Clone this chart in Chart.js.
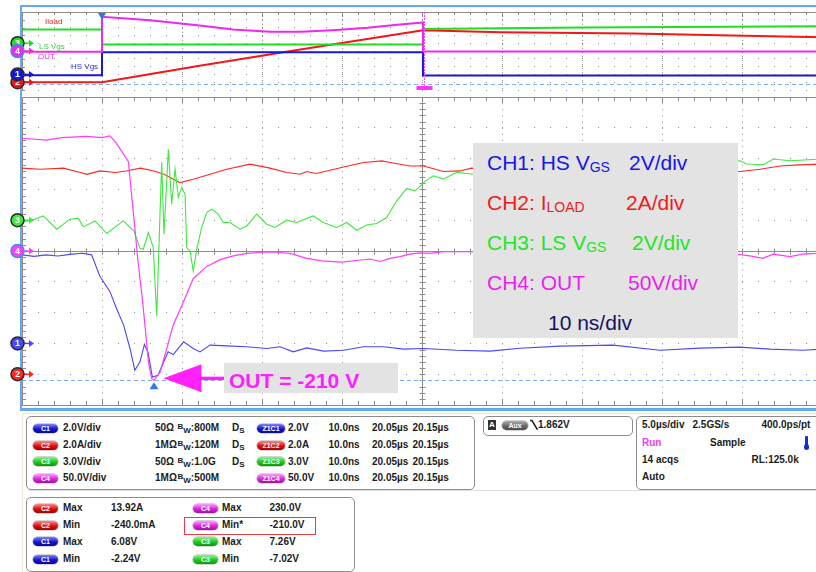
<!DOCTYPE html>
<html>
<head>
<meta charset="utf-8">
<script src="https://cdn.jsdelivr.net/npm/chart.js@4.4.1/dist/chart.umd.min.js"></script>
<style>
  html, body { margin: 0; padding: 0; width: 816px; height: 572px; overflow: hidden; background: #fff;
    font-family: "Liberation Sans", Arial, sans-serif; }
  canvas { position: absolute; left: 0; top: 0; }
  .abs { position: absolute; }
  .t { position: absolute; font-size: 10px; font-weight: bold; line-height: 12px; color: #1c1c1c; white-space: nowrap; }
  .pill { position: absolute; height: 9px; border-radius: 5px; color: #fff; font-size: 7px; font-weight: bold;
    line-height: 9px; text-align: center; box-shadow: 0 0 0 0.5px rgba(0,0,0,0.35); }
  .box { position: absolute; border: 1px solid #8c8c8c; border-radius: 5px; }
  .lg { position: absolute; font-size: 21px; line-height: 21px; white-space: nowrap; }
  .lg .sub { font-size: 14px; position: relative; top: 2px; }
  .ov { position: absolute; font-size: 8px; line-height: 10px; white-space: nowrap; }
  .bw { font-size: 8px; position: relative; }
</style>
</head>
<body>
<div class="abs" style="left:20px;top:5px;width:796px;height:2px;background:#66a8ec"></div>
<div class="abs" style="left:20px;top:5px;width:2px;height:406px;background:#66a8ec"></div>
<div class="abs" style="left:20px;top:408px;width:796px;height:3px;background:#66a8ec"></div>
<div class="abs" style="left:22px;top:413px;width:794px;height:1px;background:#efe7cd"></div>
<div class="abs" style="left:22px;top:413px;width:1px;height:159px;background:#efe7cd"></div>
<div class="abs" style="left:28px;top:490px;width:788px;height:1px;background:#dedede"></div>

<canvas id="mainChart" width="830" height="412"></canvas>
<canvas id="overviewChart" width="830" height="96"></canvas>

<div class="ov" style="left:45px;top:17px;color:#ee2222">Iload</div>
<div class="ov" style="left:39px;top:42px;color:#3ccc3c">LS Vgs</div>
<div class="ov" style="left:38px;top:52px;color:#ee33ee">OUT</div>
<div class="ov" style="left:71px;top:62px;color:#2a2ad0">HS Vgs</div>

<div class="abs" style="left:473px;top:143px;width:265px;height:195px;background:#e3e3e3">
  <div class="lg" style="left:14px;top:9px;color:#1616e6">CH1: HS V<span class="sub">GS</span></div>
  <div class="lg" style="left:156px;top:9px;color:#1616e6">2V/div</div>
  <div class="lg" style="left:14px;top:49px;color:#ee1c1c">CH2: I<span class="sub">LOAD</span></div>
  <div class="lg" style="left:153px;top:49px;color:#ee1c1c">2A/div</div>
  <div class="lg" style="left:14px;top:89px;color:#22e622">CH3: LS V<span class="sub">GS</span></div>
  <div class="lg" style="left:159px;top:89px;color:#22e622">2V/div</div>
  <div class="lg" style="left:14px;top:129px;color:#ee1cee">CH4: OUT</div>
  <div class="lg" style="left:155px;top:129px;color:#ee1cee">50V/div</div>
  <div class="lg" style="left:75px;top:169px;color:#141464">10 ns/div</div>
</div>
<div class="abs" style="left:224px;top:363px;width:174px;height:30px;background:#e3e3e3">
  <div class="lg" style="left:5px;top:7px;color:#ff1eff;font-weight:bold">OUT = -210 V</div>
</div>

<div class="box" style="left:26px;top:416px;width:447px;height:72px"></div>
<div class="box" style="left:483px;top:416px;width:148px;height:18px"></div>
<div class="box" style="left:636px;top:416px;width:200px;height:72px"></div>
<div class="box" style="left:26px;top:497px;width:327px;height:73px"></div>
<div class="abs" style="left:184px;top:517px;width:130px;height:16px;border:1px solid #e84040"></div>

<script>
// ---- zoom window (10 ns/div, 0..100 ns after 20.05 us) ----
const ch1Time = [0, 1.5, 3, 4.5, 6, 7.5, 8.7, 9.75, 11, 11.8, 12.7, 13.5, 14.1, 14.75, 15.3, 15.75, 16.3, 17.0, 17.9, 18.25,
  18.9, 20.2, 21.4, 22.25, 23.5, 25.6, 28.1, 30.6, 32.25, 33.9, 35.6, 37.7, 40.2, 42.7, 45.2, 47.7, 50.2, 54.3, 58.5, 62.25,
  67.25, 73.9, 79.75, 84.75, 89.75, 93.5, 97.6, 100];
const ch1Volts = [5.75, 5.65, 5.75, 5.68, 5.78, 5.85, 5.75, 4.34, 3.36, 2.28, 1.19, -0.33, -1.74, -1.2, -0.07, -0.57, -2.18, -2.07, -0.98, -0.55,
  -0.72, 0.10, -0.33, -0.55, -0.11, -0.16, -0.22, -0.33, -0.22, -0.55, -0.29, -0.5, -0.44, -0.22, -0.22, -0.37, -0.33, -0.44, -0.5, -0.31,
  -0.18, -0.11, -0.44, -0.31, -0.24, -0.37, -0.44, -0.37];

const ch2Time = [0, 2.3, 5.2, 7.3, 8.1, 9.75, 11.7, 13, 14.8, 16.5, 17.75, 19.75, 21.4, 23.5, 25.6, 28.5, 31, 33.1, 34.75, 35.6,
  36.8, 38.5, 40.2, 42.7, 45, 46, 48.5, 50.2, 52.7, 54.75, 56.2, 89.75, 92.25, 94.75, 97, 100];
const ch2Amps = [13.38, 13.31, 13.38, 13.10, 12.98, 13.2, 13.10, 13.2, 13.38, 13.2, 12.98, 12.44, 12.66, 12.98, 13.31, 13.64, 13.38, 13.10, 12.98, 13.16,
  13.03, 13.24, 13.46, 13.75, 13.85, 13.75, 13.52, 13.52, 13.16, 13.2, 13.38, 13.16, 13.31, 13.52, 13.59, 13.64];

const ch3Time = [0, 1.0, 2.66, 4.34, 6.0, 7.04, 7.66, 9.13, 10.59, 12.66, 14.0, 14.75, 15.16, 15.79, 16.41, 16.84, 17.46, 17.75, 18.29, 18.71,
  19.13, 19.54, 19.96, 20.38, 20.59, 21.0, 21.41, 21.84, 22.46, 23.09, 23.71, 24.54, 25.16, 26.0, 27.25, 28.09, 29.34, 30.59, 31.63, 33.09,
  34.34, 36.41, 37.66, 39.34, 40.59, 41.84, 43.09, 44.34, 45.59, 46.84, 48.09, 49.13, 50.38, 51.41, 52.66, 54.34, 56.21,
  89.75, 90.59, 92.66, 93.91, 96.0, 100];
const ch3Volts = [-0.1, -0.07, 0.42, -0.88, 0.10, 0.20, -0.65, -0.07, -1.3, -0.07, -1.05, -2.74, -2.83, -1.2, -2.67, -9.35, 5.64, -1.37, 6.9, 1.56,
  4.98, 2.22, 3.2, 2.54, -2.67, -3.0, -4.95, -2.83, -0.71, 0.75, 1.07, 0.59, -0.22, -0.22, -0.88, -0.56, 0.59, -0.39, -0.71, 0.0,
  -0.22, 0.42, -0.22, -0.71, -0.22, -0.98, -0.46, -0.32, 0.26, 1.89, 3.1, 2.86, 3.78, 4.33, 4.0, 4.66, 4.5,
  5.79, 5.47, 5.40, 5.96, 5.79, 5.96];

const ch4Time = [0, 3, 5, 8, 10, 11, 11.8, 13.3, 13.7, 14.1, 14.5, 15.0, 15.4, 15.8, 16.2, 16.5, 17.25, 18.1, 18.9, 20.2,
  21.4, 23.1, 24.75, 26.4, 28.1, 30.2, 31.9, 33.5, 35.6, 37.5, 40, 42, 43.5, 44.75, 46, 47.25, 48.5, 49.75, 51, 52.6,
  56, 89.75, 91, 92.6, 93.9, 96, 97.6, 99.25, 100];
const ch4Volts = [183, 180, 184, 186, 184, 187, 175, 145, 91, 38, -17, -72, -125, -180, -207, -210, -197, -158, -120, -82,
  -45, -25, -14, -8, -4, -2, -2, -4, -12, -16, -18, -15, -13, -17, -12, -9, -5, -3, -4, -1,
  -1, -6, -8, -12, -5, -9, -5, -4, -3];

// ---- overview record (5 us/div, trigger at 0) ----
const ch1OvTime = [-5, 0, 0, 20.06, 20.06, 45];
const ch1OvVolts = [-0.2, -0.2, 5.7, 5.7, -0.3, -0.3];
const ch2OvTime = [-5, 0, 6.1, 12.4, 20.06, 24.9, 33.2, 39.4, 45];
const ch2OvAmps = [0, 0, 4.2, 8.4, 13.3, 12.8, 12.5, 12.0, 11.5];
const ch3OvTime = [-5, 0, 0, 20.06, 20.06, 30, 45];
const ch3OvVolts = [5.3, 5.3, -0.5, -0.5, 5.5, 6.0, 6.5];
const ch4OvTime = [-5, 0, 0, 3.0, 6.1, 8.2, 10.5, 12.4, 14.4, 16.6, 18.6, 19.9, 20.06, 20.06, 45];
const ch4OvVolts = [-5, -5, 219, 197, 163, 138, 123, 123, 133, 149, 170, 181, 183, -4, -4];

// channel settings: offset in divisions, units per division
const CH1 = { offset: -3, perDiv: 2, label: '1', main: '#4848f4', ov: '#1818d8', ring: '#2a2a2a' };
const CH2 = { offset: -4, perDiv: 2, label: '2', main: '#ff2626', ov: '#f01818', ring: '#2a2a2a' };
const CH3 = { offset: 1, perDiv: 3, label: '3', main: '#3ee83e', ov: '#22dd22', ring: '#2a2a2a' };
const CH4 = { offset: 0, perDiv: 50, label: '4', main: '#ff3cff', ov: '#ee28ee', ring: '#3d8ef0' };
const ZOOM_CENTER = 20.1; // us

const minIdx = ch4Volts.indexOf(Math.min(...ch4Volts));
const minTime = ch4Time[minIdx];
const minVolts = ch4Volts[minIdx];

function toDiv(times, values, ch) {
  return times.map((t, i) => ({ x: t, y: ch.offset + values[i] / ch.perDiv }));
}

function trace(times, values, ch, color, width) {
  return { data: toDiv(times, values, ch), borderColor: color, borderWidth: width,
    pointRadius: 0, tension: 0, fill: false };
}

function scopeScales(xMin, xMax, yStep, xDash, yDash) {
  return {
    x: { type: 'linear', min: xMin, max: xMax, ticks: { display: false, stepSize: (xMax - xMin) / 10 },
      grid: { color: '#8f8f8f', drawTicks: false }, border: { display: false, dash: xDash } },
    y: { type: 'linear', min: -5, max: 5, ticks: { display: false, stepSize: yStep },
      grid: { color: '#8f8f8f', drawTicks: false }, border: { display: false, dash: yDash } }
  };
}

const px = v => Math.round(v) + 0.5;

const scopeGraticule = {
  id: 'scopeGraticule',
  beforeDatasetsDraw(chart, args, opts) {
    const { ctx, chartArea: a } = chart;
    const dx = (a.right - a.left) / 50;
    const dy = (a.bottom - a.top) / opts.yTicks;
    const cx = px((a.left + a.right) / 2), cy = px((a.top + a.bottom) / 2);
    ctx.save();
    ctx.strokeStyle = '#8c8c8c';
    ctx.lineWidth = 1;
    ctx.beginPath();
    ctx.moveTo(a.left, px(a.top)); ctx.lineTo(a.right, px(a.top));
    ctx.moveTo(px(a.left), a.top); ctx.lineTo(px(a.left), a.bottom);
    if (opts.bottom) { ctx.moveTo(a.left, px(a.bottom)); ctx.lineTo(a.right, px(a.bottom)); }
    for (let i = 0; i <= 50; i++) {
      const x = px(a.left + i * dx);
      const len = i % 5 === 0 ? opts.major : opts.minor;
      ctx.moveTo(x, a.top); ctx.lineTo(x, a.top + len);
      if (opts.bottom) { ctx.moveTo(x, a.bottom); ctx.lineTo(x, a.bottom - len); }
      if (opts.center) { ctx.moveTo(x, cy - 3); ctx.lineTo(x, cy + 3); }
    }
    for (let j = 0; j <= opts.yTicks; j++) {
      const y = px(a.top + j * dy);
      ctx.moveTo(a.left, y); ctx.lineTo(a.left + opts.minor, y);
      if (opts.center) { ctx.moveTo(cx - 3, y); ctx.lineTo(cx + 3, y); }
    }
    if (opts.center) {
      ctx.moveTo(a.left, cy); ctx.lineTo(a.right, cy);
      ctx.moveTo(cx, a.top); ctx.lineTo(cx, a.bottom);
    }
    ctx.stroke();
    ctx.restore();
  }
};

const channelMarkers = {
  id: 'channelMarkers',
  afterDatasetsDraw(chart, args, opts) {
    const { ctx, chartArea: a } = chart;
    const ys = chart.scales.y;
    ctx.save();
    opts.items.forEach(ch => {
      const yy = ys.getPixelForValue(ch.offset);
      const col = ch[opts.colorKey];
      ctx.strokeStyle = col; ctx.fillStyle = col; ctx.lineWidth = 1.5;
      ctx.beginPath(); ctx.moveTo(a.left + 2, yy); ctx.lineTo(a.left + 8, yy); ctx.stroke();
      ctx.beginPath(); ctx.moveTo(a.left + 7, yy - 3.5); ctx.lineTo(a.left + 12, yy); ctx.lineTo(a.left + 7, yy + 3.5);
      ctx.closePath(); ctx.fill();
      ctx.beginPath(); ctx.arc(a.left - 4.5, yy, 6.5, 0, Math.PI * 2);
      ctx.fill(); ctx.strokeStyle = ch.ring; ctx.stroke();
      ctx.fillStyle = '#fff';
      ctx.font = 'bold 9px "Liberation Sans", Arial';
      ctx.textAlign = 'center'; ctx.textBaseline = 'middle';
      ctx.fillText(ch.label, a.left - 4.5, yy + 0.5);
    });
    ctx.restore();
  }
};

// min cursor, min marker and call-out arrow on the zoom window
const mainNotes = {
  id: 'mainNotes',
  beforeDatasetsDraw(chart) {
    const { ctx, chartArea: a, scales: { y } } = chart;
    const cy = px(y.getPixelForValue(CH4.offset + minVolts / CH4.perDiv));
    ctx.save();
    ctx.strokeStyle = '#7cb0f0'; ctx.lineWidth = 1; ctx.setLineDash([4, 3]);
    ctx.beginPath(); ctx.moveTo(a.left, cy); ctx.lineTo(a.right, cy); ctx.stroke();
    ctx.restore();
  },
  afterDatasetsDraw(chart) {
    const { ctx, scales: { x, y } } = chart;
    const mx = x.getPixelForValue(minTime);
    const cy = y.getPixelForValue(CH4.offset + minVolts / CH4.perDiv);
    ctx.save();
    ctx.fillStyle = '#2b7de9';
    ctx.beginPath(); ctx.moveTo(mx, cy + 2); ctx.lineTo(mx + 4.5, cy + 9); ctx.lineTo(mx - 4.5, cy + 9); ctx.closePath(); ctx.fill();
    const tip = mx + 9.5, ay = cy - 2;
    ctx.fillStyle = '#ff22ff';
    ctx.beginPath(); ctx.moveTo(tip, ay); ctx.lineTo(tip + 38, ay - 14); ctx.lineTo(tip + 38, ay + 14); ctx.closePath(); ctx.fill();
    ctx.fillRect(tip + 36, ay - 1.7, 25, 3.4);
    ctx.restore();
  }
};

const overviewNotes = {
  id: 'overviewNotes',
  beforeDatasetsDraw(chart) {
    const { ctx, chartArea: a, scales: { y } } = chart;
    const cy = px(y.getPixelForValue(CH4.offset + minVolts / CH4.perDiv));
    ctx.save();
    ctx.strokeStyle = '#7cb0f0'; ctx.lineWidth = 1; ctx.setLineDash([4, 3]);
    ctx.beginPath(); ctx.moveTo(a.left, cy); ctx.lineTo(a.right, cy); ctx.stroke();
    ctx.restore();
  },
  afterDatasetsDraw(chart) {
    const { ctx, chartArea: a, scales: { x } } = chart;
    const tx = x.getPixelForValue(0);
    const zx = px(x.getPixelForValue(ZOOM_CENTER));
    ctx.save();
    ctx.fillStyle = '#2f72e0';
    ctx.beginPath(); ctx.moveTo(tx - 4, a.top + 1); ctx.lineTo(tx + 4, a.top + 1); ctx.lineTo(tx, a.top + 7.5); ctx.closePath(); ctx.fill();
    ctx.strokeStyle = '#ff44ff'; ctx.lineWidth = 1; ctx.setLineDash([2, 1]);
    ctx.beginPath(); ctx.moveTo(zx, a.top); ctx.lineTo(zx, a.bottom - 4); ctx.stroke();
    ctx.fillStyle = '#ff33ff';
    ctx.fillRect(zx - 8, a.bottom - 4, 16, 4);
    ctx.restore();
  }
};

const baseOptions = {
  responsive: false,
  animation: false,
  events: [],
  plugins: { legend: { display: false }, tooltip: { enabled: false } }
};

new Chart(document.getElementById('mainChart'), {
  type: 'line',
  data: {
    datasets: [
      trace(ch4Time, ch4Volts, CH4, CH4.main, 1.2),
      trace(ch3Time, ch3Volts, CH3, CH3.main, 1.1),
      trace(ch1Time, ch1Volts, CH1, CH1.main, 1.1),
      trace(ch2Time, ch2Amps, CH2, CH2.main, 1.1)
    ]
  },
  options: {
    ...baseOptions,
    layout: { padding: { left: 22, top: 97, right: 8, bottom: 7 } },
    scales: scopeScales(0, 100, 1, [1, 5.16], [1, 15]),
    plugins: {
      ...baseOptions.plugins,
      scopeGraticule: { yTicks: 50, minor: 4, major: 6, bottom: true, center: true },
      channelMarkers: { items: [CH3, CH4, CH1, CH2], colorKey: 'main' }
    }
  },
  plugins: [scopeGraticule, mainNotes, channelMarkers]
});

new Chart(document.getElementById('overviewChart'), {
  type: 'line',
  data: {
    datasets: [
      trace(ch4OvTime, ch4OvVolts, CH4, CH4.ov, 2),
      trace(ch1OvTime, ch1OvVolts, CH1, CH1.ov, 2),
      trace(ch3OvTime, ch3OvVolts, CH3, CH3.ov, 2),
      trace(ch2OvTime, ch2OvAmps, CH2, CH2.ov, 2)
    ]
  },
  options: {
    ...baseOptions,
    layout: { padding: { left: 22, top: 12, right: 8, bottom: 6 } },
    scales: scopeScales(-5, 45, 1, [1, 3], [1, 15]),
    plugins: {
      ...baseOptions.plugins,
      scopeGraticule: { yTicks: 10, minor: 3, major: 5, bottom: false, center: false },
      channelMarkers: { items: [CH3, CH4, CH2, CH1], colorKey: 'ov' }
    }
  },
  plugins: [scopeGraticule, overviewNotes, channelMarkers]
});

// ---- readout panels ----
const PILL = {
  C1: 'linear-gradient(#7b84ff, #1414cc 55%, #0a0a9a)',
  C2: 'linear-gradient(#ff8a8a, #dd1010 55%, #a00000)',
  C3: 'linear-gradient(#8ef58e, #1ec81e 55%, #0e940e)',
  C4: 'linear-gradient(#ff9cff, #dd22dd 55%, #a010a0)',
  Aux: 'linear-gradient(#b0b0b0, #6a6a6a 55%, #4a4a4a)'
};

function put(html, x, y, extra) {
  const el = document.createElement('div');
  el.className = 't';
  el.style.left = x + 'px';
  el.style.top = (y - 6) + 'px';
  el.innerHTML = html;
  if (extra) el.style.cssText += extra;
  document.body.appendChild(el);
}

function pill(label, x, y, w, key) {
  const el = document.createElement('div');
  el.className = 'pill';
  el.style.left = x + 'px';
  el.style.top = (y - 4.5) + 'px';
  el.style.width = w + 'px';
  el.style.background = PILL[key];
  el.textContent = label;
  document.body.appendChild(el);
}

const bw = v => '<span class="bw" style="top:-2px">B</span><span class="bw" style="top:2px">W</span>:' + v;
const ds = 'D<span class="bw" style="top:2px">S</span>';

const chRows = [
  ['C1', '2.0V/div', '50Ω', '800M', true, 'Z1C1', '2.0V'],
  ['C2', '2.0A/div', '1MΩ', '120M', true, 'Z1C2', '2.0A'],
  ['C3', '3.0V/div', '50Ω', '1.0G', true, 'Z1C3', '3.0V'],
  ['C4', '50.0V/div', '1MΩ', '500M', false, 'Z1C4', '50.0V']
];
const chRowY = [428.3, 445, 461.7, 478.3];
chRows.forEach((r, i) => {
  const y = chRowY[i];
  pill(r[0], 33, y, 25, r[0]);
  put(r[1], 63, y);
  put(r[2], 155, y);
  put(bw(r[3]), 177.5, y);
  if (r[4]) put(ds, 232, y);
  pill(r[5], 257, y, 28, r[0]);
  put(r[6], 288, y);
  put('10.0ns', 328.5, y);
  put('20.05µs', 372, y);
  put('20.15µs', 412.5, y);
});

// trigger readout
const trig = document.createElement('div');
trig.className = 'abs';
trig.style.cssText = 'left:488px;top:420px;width:8px;height:10px;background:#333;color:#fff;font-size:8px;font-weight:bold;line-height:10px;text-align:center';
trig.textContent = 'A';
document.body.appendChild(trig);
pill('Aux', 502, 425, 26, 'Aux');
put('<svg width="8" height="11" style="vertical-align:top"><polyline points="0,1.5 2,1.5 7,10 8,10" fill="none" stroke="#222" stroke-width="1.5"/></svg>', 530, 425);
put('1.862V', 538, 425);

// horizontal / acquisition readout
put('5.0µs/div', 642, 425);
put('2.5GS/s', 692.5, 425);
put('400.0ps/pt', 761.5, 425);
put('Run', 642, 443.3, 'color:#ee3cee');
put('Sample', 710, 443.3);
put('14 acqs', 642, 460);
put('RL:125.0k', 751.5, 460);
put('Auto', 642, 476.7);
const thermo = document.createElement('div');
thermo.className = 'abs';
thermo.style.cssText = 'left:805px;top:436px;width:2.5px;height:10px;background:#1530c8;border-radius:1px';
document.body.appendChild(thermo);
const bulb = document.createElement('div');
bulb.className = 'abs';
bulb.style.cssText = 'left:803.5px;top:444px;width:5.5px;height:5.5px;background:#1530c8;border-radius:50%';
document.body.appendChild(bulb);

// measurement readout
const measRows = [
  ['C2', 'Max', '13.92A', 'C4', 'Max', '230.0V'],
  ['C2', 'Min', '-240.0mA', 'C4', 'Min*', '-210.0V'],
  ['C1', 'Max', '6.08V', 'C3', 'Max', '7.26V'],
  ['C1', 'Min', '-2.24V', 'C3', 'Min', '-7.02V']
];
const measRowY = [508.3, 525, 541.7, 559];
measRows.forEach((r, i) => {
  const y = measRowY[i];
  pill(r[0], 33, y, 25, r[0]);
  put(r[1], 63, y);
  put(r[2], 111, y);
  pill(r[3], 193, y, 25, r[3]);
  put(r[4], 222, y);
  put(r[5], 269.5, y);
});
</script>
</body>
</html>
